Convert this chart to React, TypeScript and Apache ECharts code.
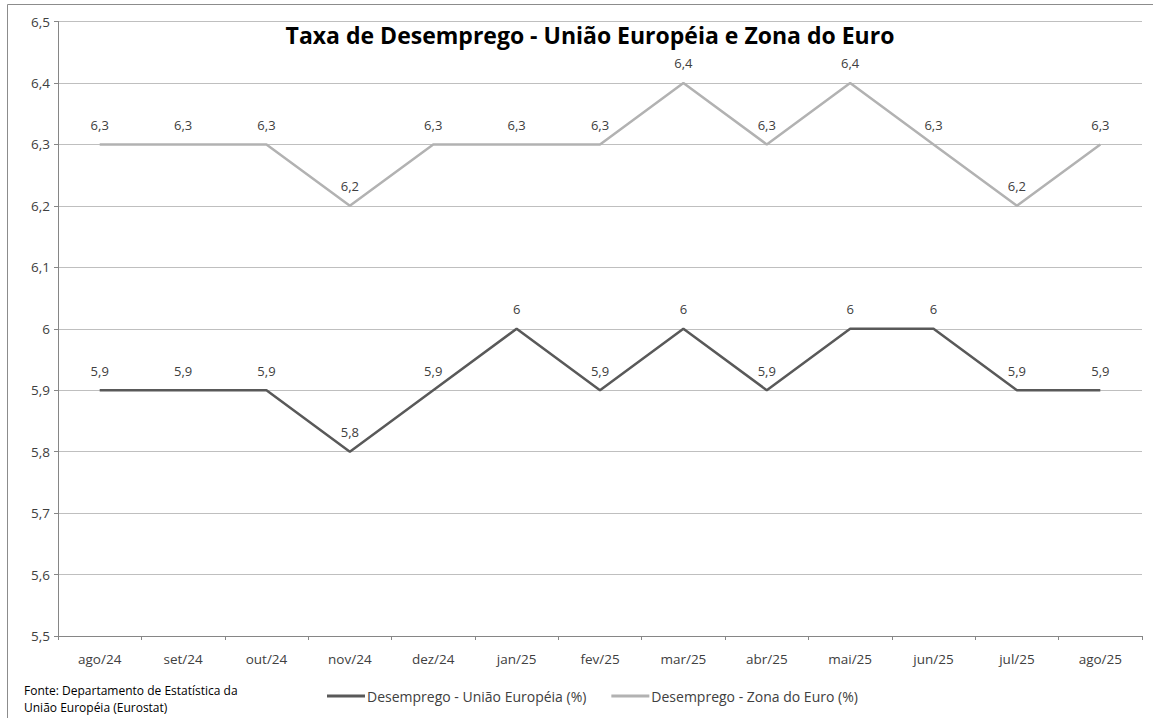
import React, { useEffect, useRef } from "react";
import * as echarts from "echarts";

const categories = ["ago/24", "set/24", "out/24", "nov/24", "dez/24", "jan/25", "fev/25", "mar/25", "abr/25", "mai/25", "jun/25", "jul/25", "ago/25"];
const euValues = [5.9, 5.9, 5.9, 5.8, 5.9, 6, 5.9, 6, 5.9, 6, 6, 5.9, 5.9];
const ezValues = [6.3, 6.3, 6.3, 6.2, 6.3, 6.3, 6.3, 6.4, 6.3, 6.4, 6.3, 6.2, 6.3];
const seriesNames = ["Desemprego - União Européia (%)", "Desemprego - Zona do Euro (%)"];
const title = "Taxa de Desemprego - União Européia e Zona do Euro";
const sourceLines = ["Fonte: Departamento de Estatística da", "União Européia (Eurostat)"];

const FONT = "'Open Sans', 'Noto Sans', sans-serif";
const fmt = (v: number) => String(Math.round(v * 10) / 10).replace(".", ",");

export default function App() {
  const ref = useRef<HTMLDivElement>(null);
  useEffect(() => {
    if (!ref.current) return;
    const chart = echarts.init(ref.current, undefined, { renderer: "svg" });
    const labelCfg = {
      show: true,
      position: "top" as const,
      distance: 13,
      fontFamily: FONT,
      fontSize: 13,
      color: "#404040",
      formatter: (p: any) => fmt(p.value),
    };
    chart.setOption({
      animation: false,
      backgroundColor: "#ffffff",
      title: {
        text: title,
        left: 585,
        textAlign: "center",
        top: 18,
        textStyle: { fontFamily: FONT, fontSize: 23, fontWeight: "bold", color: "#000000" },
      },
      grid: { left: 58, right: 11, top: 21.5, bottom: 82, containLabel: false },
      xAxis: {
        type: "category",
        data: categories,
        boundaryGap: true,
        axisLine: { show: true, lineStyle: { color: "#868686", width: 1 } },
        axisTick: { show: true, length: 4, inside: false, lineStyle: { color: "#868686" } },
        axisLabel: { fontFamily: FONT, fontSize: 13.5, color: "#404040", margin: 16 },
        splitLine: { show: false },
      },
      yAxis: {
        type: "value",
        min: 5.5,
        max: 6.5,
        interval: 0.1,
        axisLine: { show: true, lineStyle: { color: "#868686", width: 1 } },
        axisTick: { show: true, length: 4, lineStyle: { color: "#868686" } },
        axisLabel: { fontFamily: FONT, fontSize: 13.5, color: "#404040", margin: 8, formatter: (v: number) => fmt(v) },
        splitLine: { show: true, lineStyle: { color: "#bfbfbf", width: 1 } },
      },
      legend: {
        bottom: 10,
        left: 322,
        itemWidth: 38,
        itemHeight: 3,
        itemGap: 25,
        icon: "rect",
        textStyle: { fontFamily: FONT, fontSize: 14, color: "#404040", padding: [0, 0, 0, -3] },
        data: seriesNames,
      },
      series: [
        {
          name: seriesNames[0],
          type: "line",
          data: euValues,
          symbol: "circle",
          symbolSize: 0.1,
          showSymbol: true,
          lineStyle: { color: "#595959", width: 2.5 },
          itemStyle: { color: "#595959" },
          label: labelCfg,
        },
        {
          name: seriesNames[1],
          type: "line",
          data: ezValues,
          symbol: "circle",
          symbolSize: 0.1,
          showSymbol: true,
          lineStyle: { color: "#b2b2b2", width: 2.5 },
          itemStyle: { color: "#b2b2b2" },
          label: labelCfg,
        },
      ],
      graphic: [
        {
          type: "rect",
          shape: { x: 7.5, y: 4.5, width: 1200, height: 800 },
          style: { fill: "none", stroke: "#8c8c8c", lineWidth: 1 },
          silent: true,
        },
        {
          type: "text",
          left: 24,
          top: 682,
          style: {
            text: sourceLines.join("\n"),
            fontFamily: FONT,
            fontSize: 12,
            lineHeight: 17,
            fill: "#000000",
          },
        },
      ],
    });
    return () => chart.dispose();
  }, []);
  return <div ref={ref} style={{ width: 1153, height: 718, position: "absolute", left: 0, top: 0 }} />;
}
